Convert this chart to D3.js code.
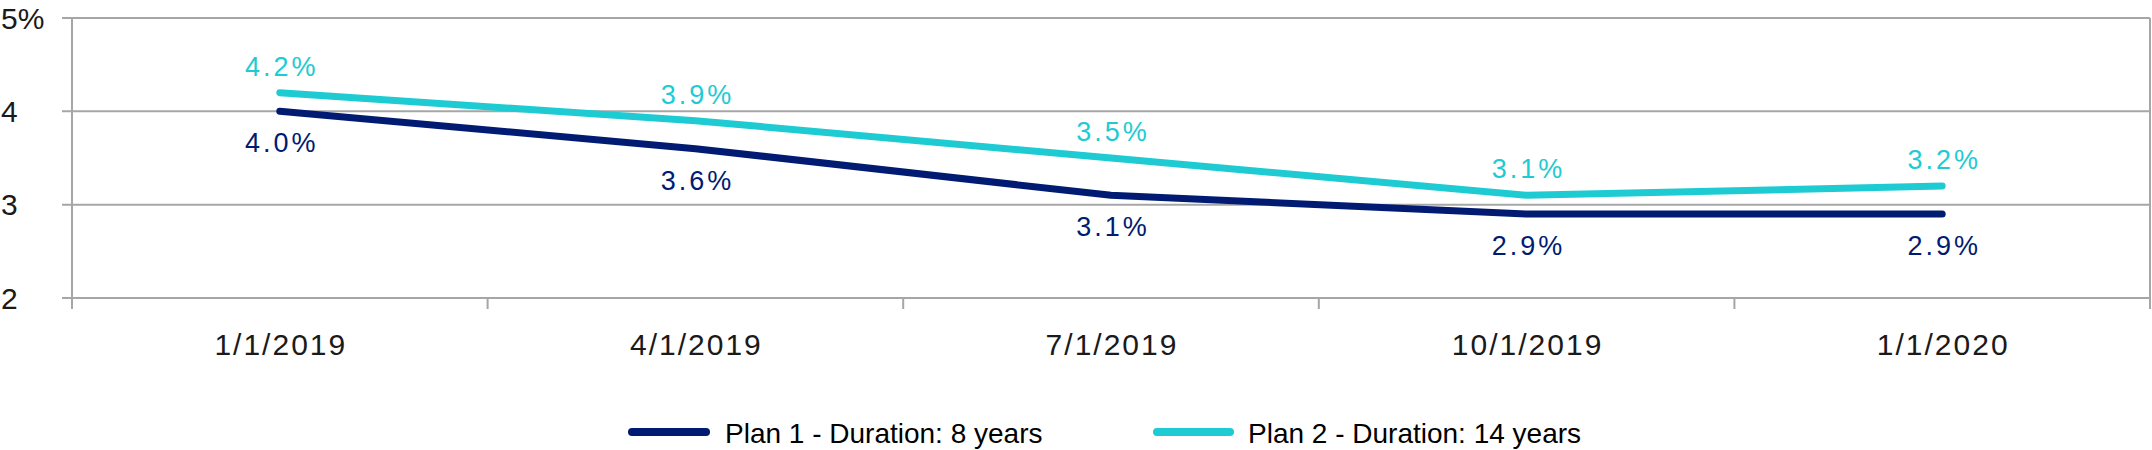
<!DOCTYPE html>
<html>
<head>
<meta charset="utf-8">
<script src="https://cdn.jsdelivr.net/npm/d3@7"></script>
<style>
  html, body { margin: 0; padding: 0; background: #fff; }
  svg { display: block; font-family: "Liberation Sans", Arial, Helvetica, sans-serif; }
</style>
</head>
<body>
<svg id="chart" width="2152" height="450"></svg>
<script>
const categories = ["1/1/2019", "4/1/2019", "7/1/2019", "10/1/2019", "1/1/2020"];
const plan1 = [4.0, 3.6, 3.1, 2.9, 2.9];
const plan2 = [4.2, 3.9, 3.5, 3.1, 3.2];
const yTicks = [2, 3, 4, 5];
const yTickLabels = ["2", "3", "4", "5%"];
const seriesNames = ["Plan 1 - Duration: 8 years", "Plan 2 - Duration: 14 years"];
const seriesColors = ["#001b71", "#1ecbd3"];

(function () {
const svg = d3.select("#chart");
const mLeft = 72, mRight = 2150, mTop = 18, mBottom = 298;
const gridColor = "#a6a6a6";

const x = d3.scaleBand().domain(categories).range([mLeft, mRight]).padding(0);
const y = d3.scaleLinear().domain([2, 5]).range([mBottom, mTop]);

// horizontal gridlines (extending left as tick marks)
svg.append("g").selectAll("line").data(yTicks).join("line")
  .attr("x1", mLeft - 10).attr("x2", mRight)
  .attr("y1", d => y(d)).attr("y2", d => y(d))
  .attr("stroke", gridColor).attr("stroke-width", 2);

// y tick labels (left-aligned at page edge)
svg.append("g").selectAll("text").data(yTicks).join("text")
  .attr("x", 1).attr("y", d => y(d))
  .attr("dy", "0.36em")
  .attr("font-size", 30).attr("fill", "#1a1a1a")
  .text((d, i) => yTickLabels[i]);

// vertical axis lines and category boundary ticks
const boundaries = categories.map(c => x(c)).concat([mRight]);
svg.append("g").selectAll("line").data(boundaries).join("line")
  .attr("x1", d => d).attr("x2", d => d)
  .attr("y1", (d, i) => (i === 0 || i === boundaries.length - 1) ? mTop : mBottom)
  .attr("y2", mBottom + 11)
  .attr("stroke", gridColor).attr("stroke-width", 2);

// x labels
svg.append("g").selectAll("text").data(categories).join("text")
  .attr("x", d => x(d) + x.bandwidth() / 2 + 1)
  .attr("y", 355)
  .attr("text-anchor", "middle")
  .attr("font-size", 30).attr("letter-spacing", "2px").attr("fill", "#1a1a1a")
  .text(d => d);

const line = d3.line()
  .x((d, i) => x(categories[i]) + x.bandwidth() / 2)
  .y(d => y(d));

const series = [plan1, plan2];
series.forEach((vals, si) => {
  svg.append("path").datum(vals)
    .attr("d", line)
    .attr("fill", "none")
    .attr("stroke", seriesColors[si])
    .attr("stroke-width", 7)
    .attr("stroke-linecap", "round")
    .attr("stroke-linejoin", "round");
});

// data labels
series.forEach((vals, si) => {
  svg.append("g").selectAll("text").data(vals).join("text")
    .attr("x", (d, i) => x(categories[i]) + x.bandwidth() / 2 + 2)
    .attr("y", d => si === 0 ? y(d) + 41 : y(d) - 17)
    .attr("text-anchor", "middle")
    .attr("font-size", 27).attr("letter-spacing", "3px")
    .attr("fill", seriesColors[si])
    .text(d => d.toFixed(1) + "%");
});

// legend
const legendItems = [
  { x1: 628, x2: 710, tx: 725 },
  { x1: 1153, x2: 1234, tx: 1248 }
];
legendItems.forEach((it, i) => {
  svg.append("line")
    .attr("x1", it.x1 + 4).attr("x2", it.x2 - 4)
    .attr("y1", 432).attr("y2", 432)
    .attr("stroke", seriesColors[i]).attr("stroke-width", 8)
    .attr("stroke-linecap", "round");
  svg.append("text")
    .attr("x", it.tx).attr("y", 443)
    .attr("font-size", 28).attr("fill", "#000")
    .text(seriesNames[i]);
});
})();
</script>
</body>
</html>
